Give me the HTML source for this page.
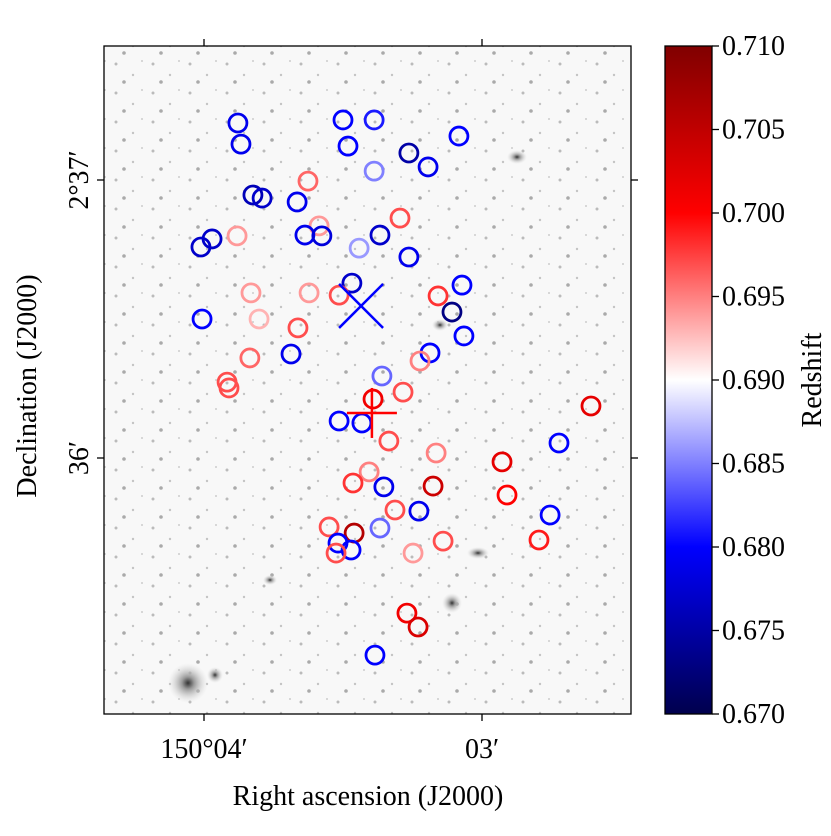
<!DOCTYPE html>
<html><head><meta charset="utf-8"><style>
body{margin:0;background:#fff;}
svg text{font-family:"Liberation Serif","DejaVu Serif",serif;fill:#000;}
</style></head><body>
<svg id="chart" width="831" height="831" viewBox="0 0 831 831" xmlns="http://www.w3.org/2000/svg">
<defs>
<linearGradient id="seis" x1="0" y1="1" x2="0" y2="0">
<stop offset="0" stop-color="#00004d"/><stop offset="0.25" stop-color="#0000ff"/>
<stop offset="0.5" stop-color="#ffffff"/><stop offset="0.75" stop-color="#ff0000"/>
<stop offset="1" stop-color="#800000"/></linearGradient>
<radialGradient id="blob"><stop offset="0" stop-color="#333"/><stop offset="0.3" stop-color="#999"/><stop offset="1" stop-color="#ddd" stop-opacity="0"/></radialGradient>
<pattern id="speck" width="37" height="29" patternUnits="userSpaceOnUse">
<circle cx="5" cy="6" r="1.5" fill="#bbb"/><circle cx="22" cy="17" r="1.2" fill="#c4c4c4"/><circle cx="31" cy="3" r="1" fill="#ccc"/><circle cx="13" cy="24" r="1.8" fill="#aaa"/>
</pattern>
</defs>
<rect x="104" y="46" width="527" height="668" fill="#f8f8f8"/>
<rect x="104" y="46" width="527" height="668" fill="url(#speck)"/>
<circle cx="188" cy="683" r="20" fill="url(#blob)"/>
<circle cx="215" cy="675" r="8" fill="url(#blob)"/>
<ellipse cx="517" cy="157" rx="10" ry="7" fill="url(#blob)"/>
<ellipse cx="478" cy="553" rx="11" ry="6" fill="url(#blob)"/>
<ellipse cx="452" cy="603" rx="10" ry="10" fill="url(#blob)"/>
<ellipse cx="440" cy="325" rx="8" ry="6" fill="url(#blob)"/>
<ellipse cx="270" cy="580" rx="7" ry="5" fill="url(#blob)"/>
<g id="marks"></g>
<rect x="104" y="46" width="527" height="668" fill="none" stroke="#000" stroke-width="1.3"/>
<g id="axes" stroke="#000" stroke-width="1.3"></g>
<text x="368" y="805" font-size="28" text-anchor="middle">Right ascension (J2000)</text>
<text transform="translate(36,386) rotate(-90)" font-size="28" text-anchor="middle">Declination (J2000)</text>
<rect x="665" y="46" width="47" height="668" fill="url(#seis)" stroke="#000" stroke-width="1.3"/>
<g id="cbar"></g>
<text transform="translate(821,380) rotate(-90)" font-size="28" text-anchor="middle">Redshift</text>
</svg>
<script>
// RA offsets (arcmin east of 150°03'), Dec offsets (arcmin north of 2°36'), redshifts
const raOff=[0.878,0.867,0.5,0.388,0.482,0.083,0.263,0.194,0.388,0.626,0.824,0.791,0.665,0.295,0.586,0.637,0.576,0.881,0.367,0.971,1.011,0.442,0.263,0.468,0.831,0.622,0.514,0.158,0.072,0.108,1.007,0.802,0.662,0.065,0.187,0.223,0.687,0.835,0.36,0.917,0.91,0.284,0.392,-0.392,0.514,0.432,0.335,-0.277,0.165,-0.072,0.406,0.464,0.353,0.176,-0.09,0.313,0.227,-0.245,0.55,0.367,0.46,0.518,0.471,0.525,0.248,0.14,-0.205,0.27,0.23,0.385];
const decOff=[1.205,1.129,1.216,1.216,1.122,1.158,1.097,1.047,1.032,0.996,0.946,0.935,0.921,0.863,0.835,0.802,0.799,0.799,0.802,0.788,0.759,0.755,0.723,0.629,0.594,0.594,0.586,0.583,0.622,0.525,0.5,0.5,0.468,0.439,0.378,0.349,0.374,0.36,0.295,0.273,0.252,0.237,0.212,0.187,0.133,0.126,0.061,0.054,0.018,-0.014,-0.05,-0.09,-0.104,-0.101,-0.133,-0.187,-0.191,-0.205,-0.248,-0.252,-0.27,-0.306,-0.331,-0.342,-0.342,-0.299,-0.295,-0.558,-0.608,-0.709];
const redshift=[0.679,0.679,0.680,0.681,0.680,0.680,0.675,0.679,0.685,0.696,0.676,0.677,0.679,0.697,0.694,0.679,0.678,0.694,0.677,0.677,0.677,0.686,0.679,0.677,0.694,0.694,0.697,0.698,0.680,0.673,0.680,0.693,0.697,0.680,0.680,0.695,0.679,0.696,0.684,0.697,0.697,0.697,0.701,0.702,0.680,0.680,0.697,0.680,0.695,0.702,0.695,0.698,0.679,0.704,0.700,0.697,0.679,0.680,0.697,0.684,0.706,0.680,0.680,0.697,0.694,0.697,0.699,0.701,0.703,0.680];
const centerRa=[0.435,0.396], centerDec=[0.547,0.162], centerZ=[0.680,0.700];
const cbTicks=[0.670,0.675,0.680,0.685,0.690,0.695,0.700,0.705,0.710];
const raTicks=[1,0], raLabels=["150°04′","03′"];
const decTicks=[1,0], decLabels=["2°37′","36′"];

const NS='http://www.w3.org/2000/svg';
const xS=v=>482-v*278, yS=v=>458-v*278;
const zMin=0.670,zMax=0.710, zS=v=>714-(v-zMin)/(zMax-zMin)*668;
function cmap(z){
  const t=Math.max(0,Math.min(1,(z-zMin)/(zMax-zMin)));
  const st=[[0,[0,0,77]],[0.25,[0,0,255]],[0.5,[255,255,255]],[0.75,[255,0,0]],[1,[128,0,0]]];
  for(let i=0;i<4;i++){const[a,ca]=st[i],[b,cb]=st[i+1];if(t<=b){const f=(t-a)/(b-a);
    return 'rgb('+ca.map((c,k)=>Math.round(c+(cb[k]-c)*f)).join(',')+')';}}
  return 'rgb(128,0,0)';
}
function mk(tag,attrs,parent){const e=document.createElementNS(NS,tag);for(const k in attrs)e.setAttribute(k,attrs[k]);parent.appendChild(e);return e;}
const marks=document.getElementById('marks');
raOff.forEach((r,i)=>{
  const c=mk('circle',{cx:xS(r),cy:yS(decOff[i]),r:9,fill:'none',stroke:cmap(redshift[i]),'stroke-width':2.8},marks);
  
  
});
{const x=xS(centerRa[0]),y=yS(centerDec[0]),s=22,col=cmap(centerZ[0]);
 const g=mk('g',{stroke:col,'stroke-width':2.5},marks);
 
 
 mk('line',{x1:x-s,y1:y-s,x2:x+s,y2:y+s},g);mk('line',{x1:x-s,y1:y+s,x2:x+s,y2:y-s},g);}
{const x=xS(centerRa[1]),y=yS(centerDec[1]),s=25,col=cmap(centerZ[1]);
 const g=mk('g',{stroke:col,'stroke-width':2.5},marks);
 
 
 mk('line',{x1:x-s,y1:y,x2:x+s,y2:y},g);mk('line',{x1:x,y1:y-s,x2:x,y2:y+s},g);}
const axes=document.getElementById('axes');
raTicks.forEach((v,i)=>{const x=xS(v);
  mk('line',{x1:x,y1:714,x2:x,y2:721},axes);mk('line',{x1:x,y1:46,x2:x,y2:39},axes);
  const t=mk('text',{x:x,y:758,'font-size':28,'text-anchor':'middle',stroke:'none'},axes);t.textContent=raLabels[i];
  
  });
decTicks.forEach((v,i)=>{const y=yS(v);
  mk('line',{x1:104,y1:y,x2:97,y2:y},axes);mk('line',{x1:631,y1:y,x2:638,y2:y},axes);
  const t=mk('text',{transform:'translate(88,'+y+') rotate(-90)','font-size':28,'text-anchor':'middle',stroke:'none'},axes);t.textContent=decLabels[i];
  
  });
const cb=document.getElementById('cbar');
cbTicks.forEach(v=>{const y=zS(v);
  mk('line',{x1:712,y1:y,x2:719,y2:y,stroke:'#000','stroke-width':1.3},cb);
  const t=mk('text',{x:722,y:y+9,'font-size':28},cb);t.textContent=v.toFixed(3);
  
  });
</script>
</body></html>
